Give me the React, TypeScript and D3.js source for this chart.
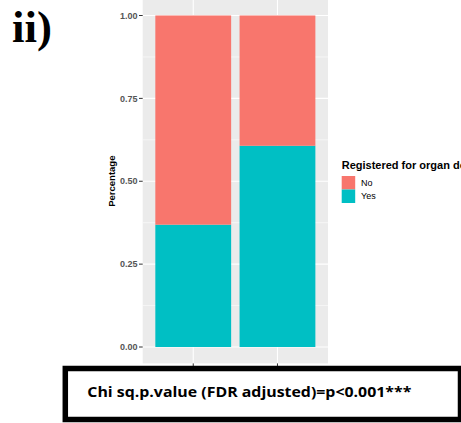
import React from "react";
import * as d3 from "d3";

const categories = ["Group 1", "Group 2"];
const yesValues = [0.369, 0.607];
const noValues = [0.631, 0.393];
const seriesNames = ["No", "Yes"];
const seriesColors = ["#F8766D", "#00BFC4"];
const yTicks = [0, 0.25, 0.5, 0.75, 1];
const yMinor = [0.125, 0.375, 0.625, 0.875];
const legendTitle = "Registered for organ donation";
const yLabel = "Percentage";
const panelLabel = "ii)";
const noteText = "Chi sq.p.value (FDR adjusted)=p<0.001***";

export default function App() {
  const W = 461, H = 423;
  const panel = { left: 142.7, right: 328, top: -1, bottom: 363.4 };
  const y = d3.scaleLinear().domain([0, 1]).range([347, 15.5]);
  // discrete axis: centers at 1 and 2 with 0.6 expansion each side
  const unit = (panel.right - panel.left) / 2.2;
  const cx = (i: number) => panel.left + (i + 1 - 0.4) * unit;
  const bw = 0.9 * unit;

  const rows = categories.map((c, i) => ({ cat: c, Yes: yesValues[i], No: noValues[i] }));
  const stack = d3.stack<any>().keys(["Yes", "No"]);
  const stacked = stack(rows);
  const colorOf = (k: string) => seriesColors[seriesNames.indexOf(k)];
  const font = "'Liberation Sans', Arial, sans-serif";

  return (
    <svg width={W} height={H} style={{ position: "absolute", left: 0, top: 0, background: "#fff" }}>
      <text x={12} y={42} fontFamily="'Liberation Serif', 'Times New Roman', serif" fontWeight="bold" fontSize={45} fill="#000">
        {panelLabel}
      </text>
      <rect x={panel.left} y={panel.top} width={panel.right - panel.left} height={panel.bottom - panel.top} fill="#EBEBEB" />
      {yMinor.map((t) => (
        <line key={"mi" + t} x1={panel.left} x2={panel.right} y1={y(t)} y2={y(t)} stroke="#fff" strokeWidth={0.55} />
      ))}
      {yTicks.map((t) => (
        <line key={"ma" + t} x1={panel.left} x2={panel.right} y1={y(t)} y2={y(t)} stroke="#fff" strokeWidth={1.1} />
      ))}
      {categories.map((c, i) => (
        <line key={"v" + c} x1={cx(i)} x2={cx(i)} y1={panel.top} y2={panel.bottom} stroke="#fff" strokeWidth={1.1} />
      ))}
      {stacked.map((s) =>
        s.map((d, i) => (
          <rect
            key={s.key + i}
            x={cx(i) - bw / 2}
            width={bw}
            y={y(d[1])}
            height={y(d[0]) - y(d[1])}
            fill={colorOf(s.key)}
          />
        ))
      )}
      {yTicks.map((t) => (
        <g key={"t" + t}>
          <line x1={139} x2={panel.left} y1={y(t)} y2={y(t)} stroke="#333" strokeWidth={1} />
          <text x={137.5} y={y(t)} dy="0.35em" textAnchor="end" fontFamily={font} fontSize={9} fontWeight="bold" fill="#555">
            {d3.format(".2f")(t)}
          </text>
        </g>
      ))}
      {categories.map((c, i) => (
        <line key={"xt" + c} x1={cx(i)} x2={cx(i)} y1={panel.bottom} y2={panel.bottom + 3} stroke="#333" strokeWidth={1} />
      ))}
      <text
        transform={`translate(115,${(panel.top + panel.bottom) / 2}) rotate(-90)`}
        textAnchor="middle"
        fontFamily={font}
        fontSize={9.5}
        fontWeight="bold"
        fill="#000"
      >
        {yLabel}
      </text>
      <text x={341.7} y={168.5} fontFamily={font} fontSize={11} fontWeight="bold" fill="#000">
        {legendTitle}
      </text>
      {seriesNames.map((n, i) => (
        <g key={n}>
          <rect x={341.7} y={176 + i * 13.5} width={13.5} height={13.5} fill={seriesColors[i]} />
          <text x={361} y={176 + i * 13.5 + 6.75} dy="0.35em" fontFamily={font} fontSize={9} fill="#000">
            {n}
          </text>
        </g>
      ))}
      <rect x={65.3} y={368.5} width={395.2} height={51} fill="#fff" stroke="#000" strokeWidth={5.5} />
      <text
        x={87.3}
        y={396.5}
        fontFamily="'Open Sans', 'Liberation Sans', sans-serif"
        fontWeight="bold"
        fontSize={15}
        textLength={324}
        lengthAdjust="spacingAndGlyphs"
        fill="#000"
      >
        {noteText}
      </text>
    </svg>
  );
}
